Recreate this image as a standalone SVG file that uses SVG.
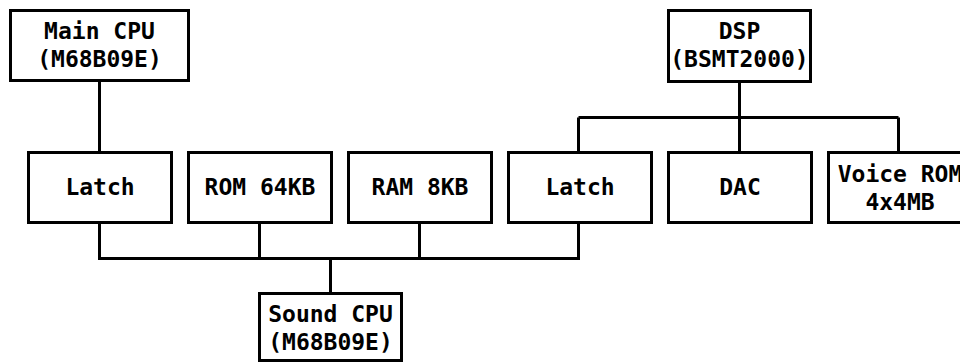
<svg xmlns="http://www.w3.org/2000/svg" width="960" height="363" viewBox="0 0 960 363">
<style>
.box{fill:#fff;stroke:#000;stroke-width:3}
.t{font-family:"DejaVu Sans Mono",monospace;font-weight:bold;font-size:23px;text-anchor:middle;fill:#000}
.w{fill:none;stroke:#000;stroke-width:3}
</style>
<rect width="960" height="363" fill="#fff"/>
<g id="connectors">
<path class="w" d="M99.5 80 V152"/>
<path class="w" d="M739.5 82 V152 M578.5 117.5 H898.5 M578.5 117.5 V152 M898.5 117.5 V152"/>
<path class="w" d="M99.5 223 V258.5 H578.5 V223 M259.5 223 V258.5 M419.5 223 V258.5 M330.5 258.5 V293"/>
</g>
<g id="main-cpu"><rect class="box" x="10.5" y="10.5" width="178" height="70"/><text class="t" x="99.5" y="39">Main CPU</text><text class="t" x="99.5" y="67">(M68B09E)</text></g>
<g id="dsp"><rect class="box" x="668.5" y="10.5" width="142" height="71"/><text class="t" x="739.5" y="39">DSP</text><text class="t" x="739.5" y="67">(BSMT2000)</text></g>
<g id="latch1"><rect class="box" x="28.5" y="152.5" width="143" height="70"/><text class="t" x="100" y="195">Latch</text></g>
<g id="rom"><rect class="box" x="188.5" y="152.5" width="143" height="70"/><text class="t" x="260" y="195">ROM 64KB</text></g>
<g id="ram"><rect class="box" x="348.5" y="152.5" width="143" height="70"/><text class="t" x="420" y="195">RAM 8KB</text></g>
<g id="latch2"><rect class="box" x="508.5" y="152.5" width="143" height="70"/><text class="t" x="580" y="195">Latch</text></g>
<g id="dac"><rect class="box" x="668.5" y="152.5" width="143" height="70"/><text class="t" x="740" y="195">DAC</text></g>
<g id="voice-rom"><rect class="box" x="828.5" y="152.5" width="143" height="70"/><text class="t" x="900" y="182">Voice ROM</text><text class="t" x="900" y="210">4x4MB</text></g>
<g id="sound-cpu"><rect class="box" x="259.5" y="293.5" width="142" height="67"/><text class="t" x="330.5" y="322">Sound CPU</text><text class="t" x="330.5" y="350">(M68B09E)</text></g>
</svg>
